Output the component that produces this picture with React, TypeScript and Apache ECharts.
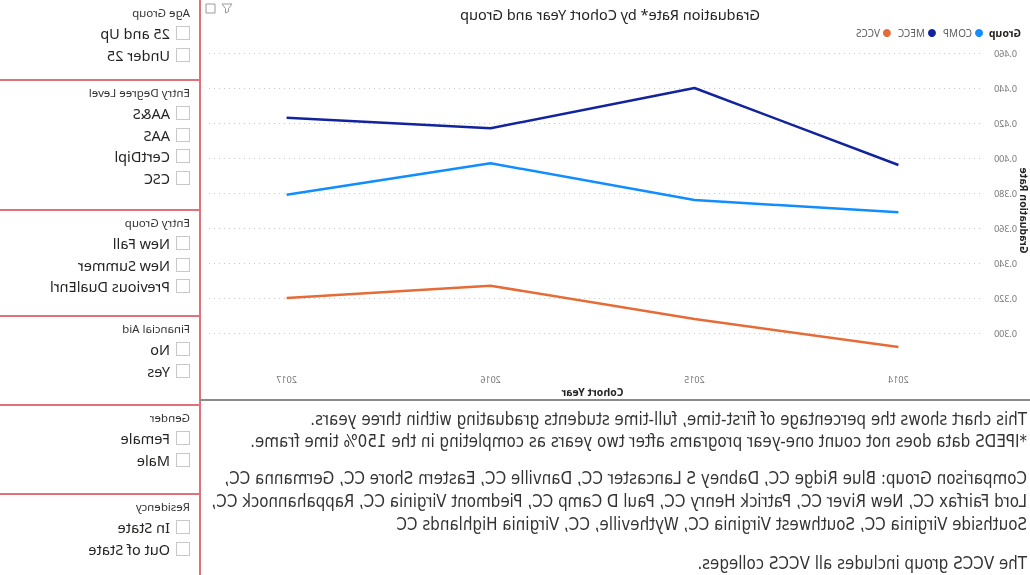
import React, { useEffect, useRef } from "react";
import * as echarts from "echarts";

const years = [2014, 2015, 2016, 2017];
const compValues = [0.369, 0.376, 0.397, 0.379];
const meccValues = [0.396, 0.440, 0.417, 0.423];
const vccsValues = [0.292, 0.308, 0.327, 0.320];
const seriesNames = ["COMP", "MECC", "VCCS"];
const seriesColors = ["#118DFF", "#12239E", "#E66C37"];

const slicerTitles = ["Age Group", "Entry Degree Level", "Entry Group", "Financial Aid", "Gender", "Residency"];
const slicerItems = [
  ["25 and Up", "Under 25"],
  ["AA&S", "AAS", "CertDipl", "CSC"],
  ["New Fall", "New Summer", "Previous DualEnrl"],
  ["No", "Yes"],
  ["Female", "Male"],
  ["In State", "Out of State"],
];
const slicerTops = [0, 80, 210, 316, 405, 494];

const noteLines = [
  "This chart shows the percentage of first-time, full-time students graduating within three years.",
  "*IPEDS data does not count one-year programs after two years as completing in the 150% time frame.",
  "Comparison Group: Blue Ridge CC, Dabney S Lancaster CC, Danville CC, Eastern Shore CC, Germanna CC,",
  "Lord Fairfax CC, New River CC, Patrick Henry CC, Paul D Camp CC, Piedmont Virginia CC, Rappahannock CC,",
  "Southside Virginia CC, Southwest Virginia CC, Wytheville, CC, Virginia Highlands CC",
  "The VCCS group includes all VCCS colleges.",
];
const noteYs = [419, 441, 478, 501, 524, 563];

const RED = "#e2707a";

function Chart() {
  const ref = useRef<HTMLDivElement>(null);
  useEffect(() => {
    if (!ref.current) return;
    const chart = echarts.init(ref.current, null, { renderer: "svg" });
    const valueSets = [compValues, meccValues, vccsValues];
    chart.setOption({
      animation: false,
      backgroundColor: "#ffffff",
      title: {
        text: "Graduation Rate* by Cohort Year and Group",
        left: 415,
        textAlign: "center",
        top: 1,
        textStyle: { fontFamily: "Noto Sans", fontSize: 14.5, fontWeight: "normal", color: "#252423" },
      },
      legend: {
        data: seriesNames,
        left: 47,
        top: 28,
        icon: "circle",
        itemWidth: 8,
        itemHeight: 8,
        itemGap: 7,
        padding: 0,
        textStyle: { fontFamily: "Noto Sans", fontSize: 10, color: "#605E5C", padding: [0, 0, 0, -2] },
      },
      graphic: [
        {
          type: "text",
          left: 9,
          top: 27,
          style: { text: "Group", fontFamily: "Noto Sans", fontSize: 10.5, fontWeight: "bold", fill: "#252423" },
        },
        {
          type: "rect",
          shape: { x: 815, y: 4, width: 9, height: 9 },
          style: { fill: "none", stroke: "#9a9a9a", lineWidth: 1 },
        },
        {
          type: "polygon",
          shape: { points: [[798, 4], [808, 4], [804.5, 8.5], [804.5, 13], [801.5, 11.5], [801.5, 8.5]] },
          style: { fill: "none", stroke: "#9a9a9a", lineWidth: 1 },
        },
      ],
      grid: { left: 50, top: 53, width: 775, height: 315, containLabel: false, outerBoundsMode: "none" },
      xAxis: {
        type: "value",
        min: 2013.6,
        max: 2017.4,
        name: "Cohort Year",
        nameLocation: "middle",
        nameGap: 18,
        nameMoveOverlap: false,
        nameTextStyle: { fontFamily: "Noto Sans", fontSize: 10.5, fontWeight: "bold", color: "#252423" },
        axisLine: { show: false },
        axisTick: { show: false },
        splitLine: { show: false },
        axisLabel: {
          customValues: years,
          formatter: (v: number) => String(Math.round(v)),
          fontFamily: "Noto Sans",
          fontSize: 9,
          color: "#777777",
          margin: 7,
        },
      },
      yAxis: {
        type: "value",
        min: 0.28,
        max: 0.46,
        interval: 0.02,
        name: "Graduation Rate",
        nameLocation: "middle",
        nameGap: 38.5,
        nameMoveOverlap: false,
        nameTextStyle: { fontFamily: "Noto Sans", fontSize: 10.5, fontWeight: "bold", color: "#252423" },
        axisLine: { show: false },
        axisTick: { show: false },
        axisLabel: {
          showMinLabel: false,
          formatter: (v: number) => v.toFixed(3),
          fontFamily: "Noto Sans",
          fontSize: 9,
          color: "#777777",
          margin: 14,
        },
        splitLine: {
          show: true,
          showMinLine: false,
          lineStyle: { type: [1, 4], color: "#c8c8c8", width: 1 },
        },
      },
      series: seriesNames.map((name, i) => ({
        name,
        type: "line",
        data: years.map((y, j) => [y, valueSets[i][j]]),
        symbol: "none",
        lineStyle: { width: 2.5, color: seriesColors[i] },
        itemStyle: { color: seriesColors[i] },
      })),
    });
    return () => chart.dispose();
  }, []);
  return <div ref={ref} style={{ position: "absolute", left: 0, top: 0, width: 830, height: 406 }} />;
}

export default function App() {
  return (
    <div
      style={{
        position: "fixed",
        left: 0,
        top: 0,
        width: 1030,
        height: 575,
        overflow: "hidden",
        background: "#ffffff",
        transform: "scaleX(-1)",
        fontFamily: "'Noto Sans', sans-serif",
      }}
    >
      <Chart />
      <div style={{ position: "absolute", left: 829, top: 0, width: 2, height: 575, background: RED }} />
      {slicerTops.map((t, i) =>
        i === 0 ? null : (
          <div key={"l" + i} style={{ position: "absolute", left: 830, top: t - 1, width: 200, height: 2, background: RED }} />
        )
      )}
      {slicerTitles.map((title, i) => (
        <React.Fragment key={"s" + i}>
          <div
            style={{
              position: "absolute",
              left: 840,
              top: slicerTops[i] + 12.5 - 8,
              height: 16,
              lineHeight: "16px",
              fontSize: 11.5,
              color: "#333333",
              whiteSpace: "nowrap",
            }}
          >
            {title}
          </div>
          {slicerItems[i].map((item, j) => {
            const cy = slicerTops[i] + 33 + j * 21.5;
            return (
              <React.Fragment key={"i" + j}>
                <div
                  style={{
                    position: "absolute",
                    left: 840,
                    top: cy - 7,
                    width: 12,
                    height: 12,
                    border: "1px solid #c8c8c8",
                    background: "#ffffff",
                  }}
                />
                <div
                  style={{
                    position: "absolute",
                    left: 860,
                    top: cy - 10,
                    height: 20,
                    lineHeight: "20px",
                    fontSize: 14.5,
                    color: "#252423",
                    whiteSpace: "nowrap",
                  }}
                >
                  {item}
                </div>
              </React.Fragment>
            );
          })}
        </React.Fragment>
      ))}
      <div style={{ position: "absolute", left: 0, top: 399, width: 830, height: 1.5, background: "#8a8a8a" }} />
      {noteLines.map((line, i) => (
        <div
          key={"n" + i}
          style={{
            position: "absolute",
            left: 3,
            top: noteYs[i] - 11,
            height: 22,
            lineHeight: "22px",
            fontSize: 16.8,
            fontFamily: "'Liberation Sans Narrow', 'DejaVu Sans Condensed', sans-serif",
            color: "#333333",
            whiteSpace: "nowrap",
          }}
        >
          {line}
        </div>
      ))}
    </div>
  );
}
